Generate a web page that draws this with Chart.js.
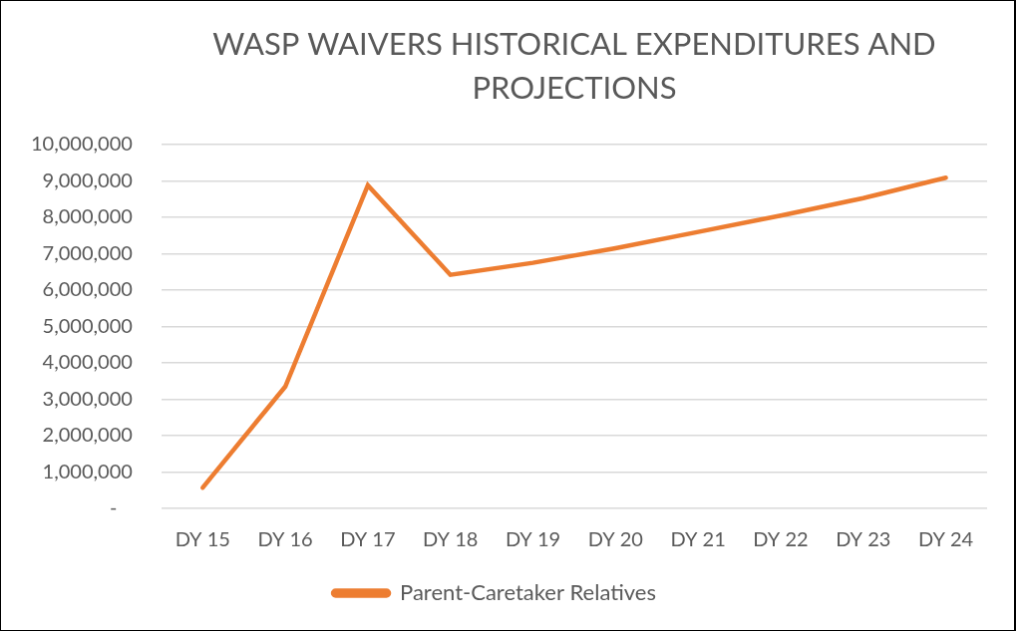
<!DOCTYPE html>
<html>
<head>
<meta charset="utf-8">
<script src="https://cdn.jsdelivr.net/npm/chart.js@4/dist/chart.umd.min.js"></script>
<style>
  body { margin: 0; background: #fff; }
  #chart { display: block; border: 1px solid #000; border-right-width: 2px; }
</style>
</head>
<body>
<canvas id="chart" width="1016" height="631"></canvas>
<script>
const labels = ['DY 15', 'DY 16', 'DY 17', 'DY 18', 'DY 19', 'DY 20', 'DY 21', 'DY 22', 'DY 23', 'DY 24'];
const parentCaretaker = [570000, 3350000, 8880000, 6420000, 6750000, 7150000, 7600000, 8050000, 8530000, 9090000];

const textColor = '#595959';
const fontFamily = 'Lato, "Open Sans", sans-serif';

new Chart(
  document.getElementById('chart'),
  {
    type: 'line',
    data: {
      labels: labels,
      datasets: [
        {
          label: 'Parent-Caretaker Relatives',
          data: parentCaretaker,
          borderColor: '#ED7D31',
          backgroundColor: '#ED7D31',
          borderWidth: 4.5,
          borderCapStyle: 'round',
          borderJoinStyle: 'miter',
          pointRadius: 0,
          tension: 0,
        },
      ]
    },
    options: {
      responsive: false,
      animation: false,
      layout: {
        padding: { left: 1, right: 27, top: 22, bottom: 16 }
      },
      plugins: {
        title: {
          display: true,
          fullSize: false,
          text: ['WASP WAIVERS HISTORICAL EXPENDITURES AND', 'PROJECTIONS'],
          color: textColor,
          font: { family: fontFamily, size: 31, weight: 'normal', lineHeight: 1.42 },
          padding: { top: 0, bottom: 34 },
        },
        legend: {
          position: 'bottom',
          labels: {
            color: textColor,
            font: { family: fontFamily, size: 22 },
            boxWidth: 56,
            boxHeight: 5,
            useBorderRadius: true,
            borderRadius: 2.5,
            padding: 10,
          },
        },
        tooltip: { enabled: false },
      },
      scales: {
        x: {
          offset: true,
          grid: { display: false, drawTicks: false },
          border: { display: false },
          ticks: {
            color: textColor,
            font: { family: fontFamily, size: 20 },
            padding: 20,
            maxRotation: 0,
          },
        },
        y: {
          min: 0,
          max: 10000000,
          grid: { color: '#d9d9d9', lineWidth: 1.5, drawTicks: false },
          border: { display: false },
          ticks: {
            stepSize: 1000000,
            color: textColor,
            font: { family: fontFamily, size: 20 },
            padding: 29,
            // accounting style: zero shown as a dash
            callback: (v) => v === 0 ? '-   ' : v.toLocaleString('en-US'),
          },
        },
      },
    },
  }
);
</script>
</body>
</html>
